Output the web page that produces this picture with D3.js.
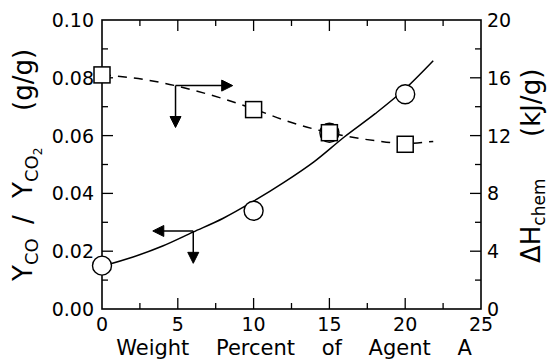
<!DOCTYPE html>
<html>
<head>
<meta charset="utf-8">
<script src="https://cdn.jsdelivr.net/npm/d3@7/dist/d3.min.js"></script>
<style>
  html, body { margin: 0; padding: 0; background: #fff; }
  svg { display: block; }
  text { font-family: "DejaVu Sans", sans-serif; fill: #000; }
</style>
</head>
<body>
<svg id="chart" width="551" height="360"></svg>
<script>
// Measured points (weight percent of agent A)
const weightPct = [0, 10, 15, 20];
const yieldRatio = [0.015, 0.034, 0.061, 0.0743];   // Y_CO / Y_CO2, g/g (left axis)
const heatChem = [16.2, 13.8, 12.2, 11.4];          // ΔH_chem, kJ/g (right axis)

// Trend curves traced through the data
const fitPct = [0, 2, 4, 6, 8, 10, 12, 14, 16, 18, 20, 21.85];
const yieldFit = [0.0148, 0.0179, 0.0218, 0.0266, 0.0314, 0.0373, 0.0438, 0.0510, 0.0596, 0.0675, 0.0762, 0.0859];
const heatFitPct = [0, 2, 4, 6, 8, 10, 12, 14, 16, 18, 20, 21.85];
const heatFit = [16.2, 16.0, 15.65, 15.15, 14.55, 13.85, 13.08, 12.45, 11.98, 11.65, 11.45, 11.6];

// Axis ticks
const xTicks = [0, 5, 10, 15, 20, 25];
const xMinor = [2.5, 7.5, 12.5, 17.5, 22.5];
const yLeftTicks = [0, 0.02, 0.04, 0.06, 0.08, 0.10];
const yLeftMinor = [0.01, 0.03, 0.05, 0.07, 0.09];
const yRightTicks = [0, 4, 8, 12, 16, 20];
const yRightMinor = [2, 6, 10, 14, 18];

// Arrow indicators: [corner x, corner y (left units), horizontal tip x, vertical tip y (left units)]
const toRightAxis = [4.85, 0.0773, 8.62, 0.0628];
const toLeftAxis = [6.02, 0.0270, 3.35, 0.0158];

const svg = d3.select("#chart");
const L = 102, R = 481, T = 20, B = 309;

const x = d3.scaleLinear().domain([0, 25]).range([L, R]);
const yL = d3.scaleLinear().domain([0, 0.10]).range([B, T]);
const yR = d3.scaleLinear().domain([0, 20]).range([B, T]);

// Frame
svg.append("rect")
  .attr("x", L).attr("y", T).attr("width", R - L).attr("height", B - T)
  .attr("fill", "none").attr("stroke", "#000").attr("stroke-width", 1.6);

const tickG = svg.append("g").attr("stroke", "#000").attr("stroke-width", 1.3);
const major = 11, minor = 6;

// bottom & top ticks (inward)
xTicks.slice(1, -1).forEach(v => {
  tickG.append("line").attr("x1", x(v)).attr("x2", x(v)).attr("y1", B).attr("y2", B - major);
  tickG.append("line").attr("x1", x(v)).attr("x2", x(v)).attr("y1", T).attr("y2", T + major);
});
xMinor.forEach(v => {
  tickG.append("line").attr("x1", x(v)).attr("x2", x(v)).attr("y1", B).attr("y2", B - minor);
  tickG.append("line").attr("x1", x(v)).attr("x2", x(v)).attr("y1", T).attr("y2", T + minor);
});
// left ticks
yLeftTicks.slice(1, -1).forEach(v => {
  tickG.append("line").attr("x1", L).attr("x2", L + major).attr("y1", yL(v)).attr("y2", yL(v));
});
yLeftMinor.forEach(v => {
  tickG.append("line").attr("x1", L).attr("x2", L + minor).attr("y1", yL(v)).attr("y2", yL(v));
});
// right ticks
yRightTicks.slice(1, -1).forEach(v => {
  tickG.append("line").attr("x1", R).attr("x2", R - major).attr("y1", yR(v)).attr("y2", yR(v));
});
yRightMinor.forEach(v => {
  tickG.append("line").attr("x1", R).attr("x2", R - minor).attr("y1", yR(v)).attr("y2", yR(v));
});

// Tick labels
const tickFont = 19;
svg.append("g").selectAll("text").data(xTicks).join("text")
  .attr("x", d => x(d)).attr("y", 331)
  .attr("text-anchor", "middle").attr("font-size", tickFont)
  .text(d => d3.format("d")(d));
svg.append("g").selectAll("text").data(yLeftTicks).join("text")
  .attr("x", L - 8).attr("y", d => yL(d) + 7)
  .attr("text-anchor", "end").attr("font-size", tickFont)
  .text(d => d3.format(".2f")(d));
svg.append("g").selectAll("text").data(yRightTicks).join("text")
  .attr("x", R + 6).attr("y", d => yR(d) + 7)
  .attr("text-anchor", "start").attr("font-size", tickFont)
  .text(d => d3.format("d")(d));

// Axis titles
svg.append("text")
  .attr("x", 294).attr("y", 355)
  .attr("text-anchor", "middle").attr("font-size", 21)
  .attr("word-spacing", 20)
  .text("Weight Percent of Agent A");

// Left title, laid out bottom-to-top (rotated frame: text x = -page y)
const leftTitle = svg.append("text")
  .attr("transform", "translate(32,0) rotate(-90)")
  .attr("font-size", 26);
leftTitle.append("tspan").attr("x", -281).attr("y", 0).text("Y");
leftTitle.append("tspan").attr("font-size", 18).attr("dy", 6).text("CO");
leftTitle.append("tspan").attr("x", -224).attr("y", 0).text("/");
leftTitle.append("tspan").attr("x", -198).attr("y", 0).text("Y");
leftTitle.append("tspan").attr("font-size", 18).attr("dy", 6).text("CO");
leftTitle.append("tspan").attr("font-size", 12).attr("dy", 4).text("2");
leftTitle.append("tspan").attr("x", -111).attr("y", 0).text("(g/g)");

// Right title
const rightTitle = svg.append("text")
  .attr("transform", "translate(540,0) rotate(-90)")
  .attr("font-size", 26);
rightTitle.append("tspan").attr("x", -263).attr("y", 0).text("ΔH");
rightTitle.append("tspan").attr("font-size", 17).attr("dy", 5).text("chem");
rightTitle.append("tspan").attr("x", -137).attr("y", 0).text("(kJ/g)");

// Trend curves
const yieldLine = d3.line()
  .x((d, i) => x(fitPct[i]))
  .y(d => yL(d))
  .curve(d3.curveMonotoneX);
svg.append("path")
  .attr("d", yieldLine(yieldFit))
  .attr("fill", "none").attr("stroke", "#000").attr("stroke-width", 1.5);

const heatLine = d3.line()
  .x((d, i) => x(heatFitPct[i]))
  .y(d => yR(d))
  .curve(d3.curveMonotoneX);
svg.append("path")
  .attr("d", heatLine(heatFit))
  .attr("fill", "none").attr("stroke", "#000").attr("stroke-width", 1.5)
  .attr("stroke-dasharray", "9,7");

// Arrow indicators
function arrowHead(g, tx, ty, dir) {
  // filled triangle with tip at (tx,ty), pointing in dir ("right","left","down")
  const len = 11, half = 5.5;
  let pts;
  if (dir === "right") pts = [[tx, ty], [tx - len, ty - half], [tx - len, ty + half]];
  else if (dir === "left") pts = [[tx, ty], [tx + len, ty - half], [tx + len, ty + half]];
  else pts = [[tx, ty], [tx - half, ty - len], [tx + half, ty - len]];
  g.append("path").attr("d", "M" + pts.map(p => p.join(",")).join("L") + "Z")
    .attr("fill", "#000").attr("stroke", "#000").attr("stroke-width", 1);
}
function indicator(spec, dir) {
  const [cx, cy, hx, vy] = spec;
  const g = svg.append("g");
  const px = x(cx), py = yL(cy), hpx = x(hx), vpy = yL(vy);
  const off = dir === "right" ? -9 : 9;
  g.append("line").attr("x1", px).attr("y1", py).attr("x2", hpx + off).attr("y2", py)
    .attr("stroke", "#000").attr("stroke-width", 1.5);
  g.append("line").attr("x1", px).attr("y1", py).attr("x2", px).attr("y2", vpy - 9)
    .attr("stroke", "#000").attr("stroke-width", 1.5);
  arrowHead(g, hpx, py, dir);
  arrowHead(g, px, vpy, "down");
}
indicator(toRightAxis, "right");
indicator(toLeftAxis, "left");

// Markers: circles for the yield ratio, squares for the heat of combustion
svg.append("g").selectAll("circle").data(weightPct).join("circle")
  .attr("cx", d => x(d)).attr("cy", (d, i) => yL(yieldRatio[i])).attr("r", 9.5)
  .attr("fill", "#fff").attr("stroke", "#000").attr("stroke-width", 1.4);
svg.append("g").selectAll("rect").data(weightPct).join("rect")
  .attr("x", d => x(d) - 8).attr("y", (d, i) => yR(heatChem[i]) - 8)
  .attr("width", 16).attr("height", 16)
  .attr("fill", "#fff").attr("stroke", "#000").attr("stroke-width", 1.5);
</script>
</body>
</html>
